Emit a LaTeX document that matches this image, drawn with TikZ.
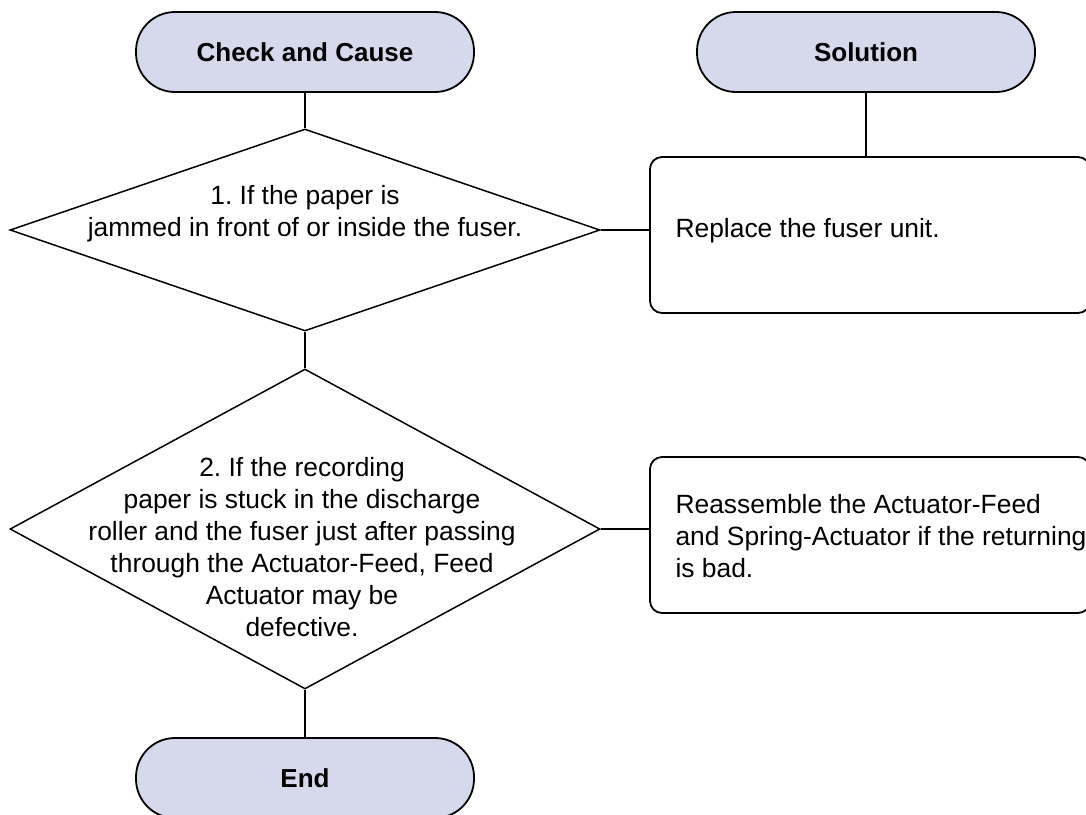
\documentclass[tikz,border=0pt]{standalone}
\usepackage{fontspec}
\setmainfont{Liberation Sans}
\usetikzlibrary{shapes.geometric}
\definecolor{termfill}{RGB}{214,216,236}
\frenchspacing

\begin{document}
\begin{tikzpicture}[x=1pt, y=-1pt,
    term/.style={draw, line width=1.8pt, fill=termfill, rounded corners=39pt,
                 minimum width=338pt, minimum height=80pt,
                 font=\fontsize{26}{32}\selectfont\bfseries},
    check/.style={draw, diamond, line width=1.5pt, inner sep=0pt,
                  minimum width=590pt},
    fixbox/.style={draw, line width=1.8pt, rounded corners=12pt,
                   minimum width=440pt, minimum height=156pt},
    txt/.style={align=center, font=\fontsize{26.4}{32}\selectfont},
    link/.style={line width=1.6pt}
  ]
  \useasboundingbox (0,0) rectangle (1086,814);
  % Kopfzeilen
  \node[term] (cc) at (305,52) {Check and Cause};
  \node[term] (sol) at (866,52) {Solution};
  % Pruefung 1
  \node[check, minimum height=202pt] (q1) at (305,230) {};
  \node[txt] (q1t) at (305,214) {1. If the paper is\\jammed in front of or inside the fuser.};
  % Pruefung 2
  \node[check, minimum height=320pt] (q2) at (305,529) {};
  \node[txt] (q2t) at (302,547) {2. If the recording\\paper is stuck in the discharge\\roller and the fuser just after passing\\through the Actuator-Feed, Feed\\Actuator may be\\defective.};
  % Ende
  \node[term] (endt) at (305,778) {End};
  % Abhilfe 1
  \node[fixbox] (fix1) at (870,235) {};
  \node[txt, anchor=west] (fix1t) at (672,231) {Replace the fuser unit.};
  % Abhilfe 2
  \node[fixbox] (fix2) at (870,535) {};
  \node[txt, align=left, anchor=west] (fix2t) at (672,536) {Reassemble the Actuator-Feed\\and Spring-Actuator if the returning\\is bad.};
  % Linien
  \draw[link] (cc) -- (q1);
  \draw[link] (q1) -- (q2);
  \draw[link] (q2) -- (endt);
  \draw[link] (sol) -- (sol |- fix1.north);
  \draw[link] (q1.east) -- (q1.east -| fix1.west);
  \draw[link] (q2.east) -- (q2.east -| fix2.west);
\end{tikzpicture}
\end{document}
